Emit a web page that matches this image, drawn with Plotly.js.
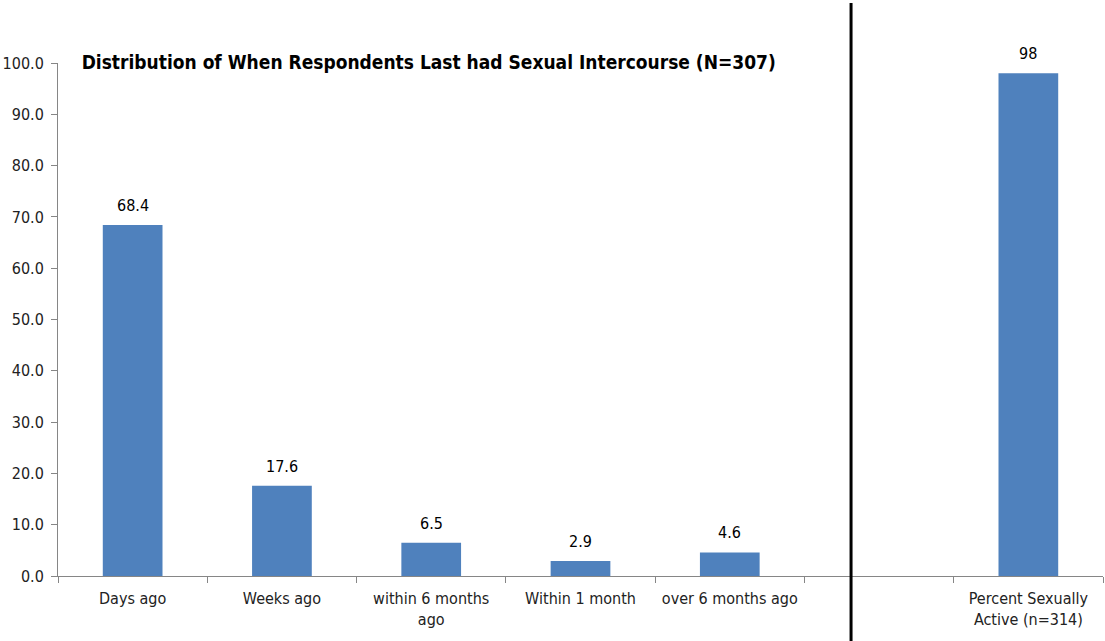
<!DOCTYPE html>
<html>
<head>
<meta charset="utf-8">
<script src="https://cdn.plot.ly/plotly-3.0.1.min.js"></script>
<style>html,body{margin:0;padding:0;background:#fff;}#chart{width:1105px;height:641px;}</style>
</head>
<body>
<div id="chart"></div>
<script>
var categories = ["Days ago", "Weeks ago", "within 6 months<br>ago", "Within 1 month", "over 6 months ago", " ", "Percent Sexually<br>Active (n=314)"];
var values = [68.4, 17.6, 6.5, 2.9, 4.6, null, 98];
var valueLabels = ["68.4", "17.6", "6.5", "2.9", "4.6", "", "98"];
var yTicks = [0, 10, 20, 30, 40, 50, 60, 70, 80, 90, 100];
var chartTitle = "Distribution of When Respondents Last had Sexual Intercourse (N=307)";

var fontFam = "'DejaVu Sans Condensed', 'DejaVu Sans', sans-serif";

var trace = {
  type: "bar",
  x: categories,
  y: values,
  marker: {color: "#4F81BD"},
  hoverinfo: "skip"
};

var annotations = [];
categories.forEach(function (c, i) {
  if (values[i] === null || valueLabels[i] === "") return;
  annotations.push({
    x: c, y: values[i], xref: "x", yref: "y",
    text: valueLabels[i], showarrow: false,
    yanchor: "bottom", yshift: 8,
    font: {family: fontFam, size: 16, color: "#000"}
  });
});

var layout = {
  width: 1105,
  height: 641,
  margin: {l: 58, r: 2, t: 63, b: 65},
  paper_bgcolor: "#fff",
  plot_bgcolor: "#fff",
  showlegend: false,
  bargap: 0.6,
  font: {family: fontFam, size: 16, color: "#222"},
  title: {
    text: "<b>" + chartTitle + "</b>",
    font: {family: fontFam, size: 19, color: "#000"},
    xref: "container", x: 0.388, xanchor: "center",
    yref: "container", y: 0.903, yanchor: "middle"
  },
  xaxis: {
    type: "category",
    categoryorder: "array",
    categoryarray: categories,
    showline: true, linecolor: "#868686", linewidth: 1,
    ticks: "outside", tickson: "boundaries", ticklen: 6, tickcolor: "#868686",
    ticklabelstandoff: 8,
    showgrid: false, zeroline: false,
    tickfont: {family: fontFam, size: 16, color: "#222"}
  },
  yaxis: {
    range: [0, 100],
    tickvals: yTicks,
    tickformat: ".1f",
    showline: true, linecolor: "#868686", linewidth: 1,
    ticks: "outside", ticklen: 6, tickcolor: "#868686",
    ticklabelstandoff: 4,
    showgrid: false, zeroline: false,
    tickfont: {family: fontFam, size: 16, color: "#222"}
  },
  annotations: annotations,
  shapes: [{
    type: "line", xref: "paper", yref: "paper",
    x0: 0.7589, x1: 0.7589, y0: 1.117, y1: -0.127,
    line: {color: "#000", width: 3}
  }]
};

Plotly.newPlot("chart", [trace], layout, {displayModeBar: false, staticPlot: true});
</script>
</body>
</html>
